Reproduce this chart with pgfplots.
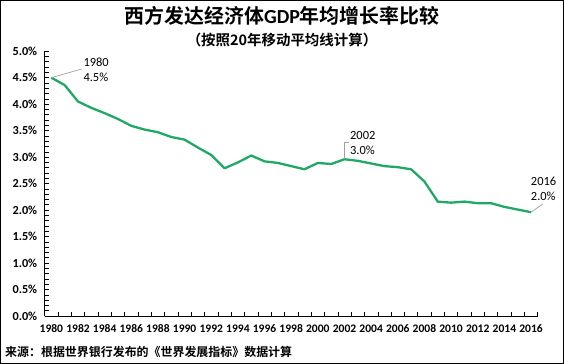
\documentclass[border=0pt]{standalone}
\usepackage{fontspec}
\setmainfont{Carlito}
\newfontfamily\cjk{Noto Sans CJK SC Bold}
\usepackage{pgfplots}
\pgfplotsset{compat=1.18}
\definecolor{lgreen}{RGB}{30,170,100}
\definecolor{leader}{RGB}{160,160,160}
\pgfplotstableread{
year val
1980 4.50
1981 4.36
1982 4.05
1983 3.93
1984 3.83
1985 3.72
1986 3.59
1987 3.52
1988 3.47
1989 3.38
1990 3.33
1991 3.18
1992 3.04
1993 2.79
1994 2.90
1995 3.03
1996 2.92
1997 2.89
1998 2.83
1999 2.77
2000 2.89
2001 2.87
2002 2.96
2003 2.93
2004 2.88
2005 2.83
2006 2.81
2007 2.77
2008 2.54
2009 2.16
2010 2.14
2011 2.16
2012 2.13
2013 2.13
2014 2.06
2015 2.01
2016 1.96
}\gdp
\begin{document}
\begin{tikzpicture}
\useasboundingbox (0,0) rectangle (564bp,364bp);
\draw[line width=1.2bp] (0.6bp,0.6bp) rectangle (563.4bp,363.4bp);
\node[font=\cjk\fontsize{20}{24}\selectfont, inner sep=0] at (282bp,348.5bp) {西方发达经济体{\fontspec{Carlito}\bfseries GDP}年均增长率比较};
\node[font=\cjk\fontsize{14.5}{17}\selectfont, inner sep=0] at (282bp,324bp) {（按照20年移动平均线计算）};
\node[font=\cjk\fontsize{12}{14}\selectfont, anchor=west, inner sep=0] at (5bp,12bp) {来源：根据世界银行发布的《世界发展指标》数据计算};
\begin{axis}[
  at={(44.7bp,48bp)}, anchor=south west,
  scale only axis, width=493bp, height=264.8bp,
  xmin=1979.5, xmax=2016.5, ymin=0, ymax=5,
  clip=false,
  axis lines=left, axis line style={-, line width=0.9bp, black},
  xtick={1980,1982,...,2016},
  minor xtick={1979.5,1980.5,...,2016.5},
  major x tick style={draw=none},
  ytick={0,0.5,...,5}, minor y tick num=4,
  tick align=inside, major tick length=4bp, minor tick length=4bp,
  tick style={black, line width=0.6bp},
  /pgf/number format/assume math mode=true,
  xticklabel style={font=\bfseries\fontsize{11.6}{13}\selectfont, yshift=-5bp, /pgf/number format/1000 sep={}},
  yticklabel style={font=\bfseries\fontsize{12.3}{14}\selectfont, xshift=-4bp},
  yticklabel={\pgfmathprintnumber[fixed,fixed zerofill,precision=1]{\tick}\%},
]
\addplot[color=lgreen, line width=2.3bp, no marks, line join=round] table[x=year,y=val] {\gdp};
\draw[leader, line width=0.7bp] (axis cs:1980,4.50) -- (axis cs:1982.28,4.664);
\node[anchor=west, align=left, inner sep=0, font=\fontsize{12.5}{15}\selectfont] at (axis cs:1982.4,4.65) {1980\\4.5\%};
\draw[leader, line width=0.7bp] (axis cs:2002,2.96) |- (axis cs:2002.31,3.272);
\node[anchor=west, align=left, inner sep=0, font=\fontsize{12.5}{15}\selectfont] at (axis cs:2002.41,3.267) {2002\\3.0\%};
\draw[leader, line width=0.7bp] (axis cs:2016,1.96) -- (axis cs:2016.88,2.115);
\node[anchor=west, align=left, inner sep=0, font=\fontsize{12.5}{15}\selectfont] at (axis cs:2015.98,2.40) {2016\\2.0\%};
\end{axis}
\end{tikzpicture}
\end{document}
